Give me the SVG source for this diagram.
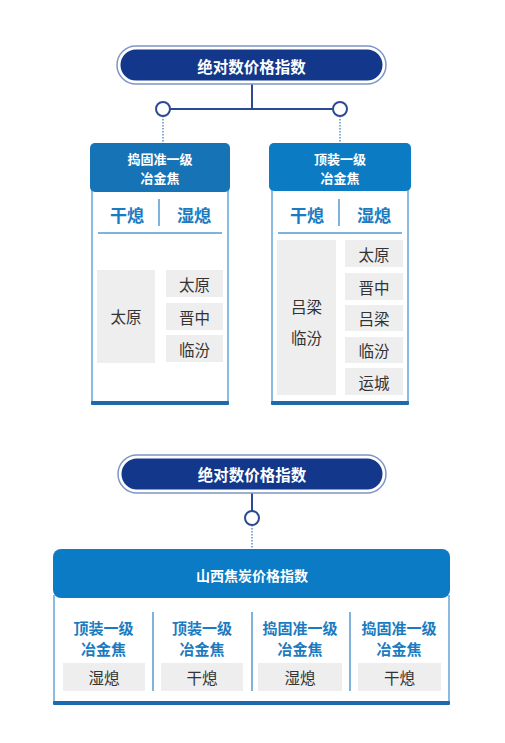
<svg xmlns="http://www.w3.org/2000/svg" width="505" height="743" viewBox="0 0 505 743">
<style>
text{font-family:"Noto Sans CJK SC","Noto Sans",sans-serif;text-anchor:middle;dominant-baseline:central}
.pillo{fill:#fff;stroke:#7f95c6;stroke-width:1.5}
.pilli{fill:#13378b}
.pt{fill:#fff;font-size:15.5px;font-weight:bold}
.hd{fill:#1674b6}
.ht{fill:#fff;font-size:13px;font-weight:bold}
.side{stroke:#8bbbe0;stroke-width:2;fill:none}
.bar{fill:#1c6aab}
.bt{fill:#1a7bc0;font-size:17px;font-weight:bold}
.bt2{fill:#1a7bc0;font-size:15px;font-weight:bold}
.sep{stroke:#7fb3dc;stroke-width:2}
.cell{fill:#eeeeee}
.ct{fill:#333;font-size:15.5px}
.ln{stroke:#2c4a93;stroke-width:2;fill:none}
.dot{stroke:#5a8fc9;stroke-width:1.5;stroke-dasharray:1.5 1.5;fill:none}
.circ{fill:#fff;stroke:#2c4a93;stroke-width:2}
</style>
<g id="connectors">
<path class="ln" d="M252 84V109M163 109H340"/>
<path class="dot" d="M163 116V143M340 116V143"/>
<circle class="circ" cx="163" cy="109" r="7"/>
<circle class="circ" cx="340" cy="109" r="7"/>
<path class="ln" d="M252 493V511"/>
<path class="dot" d="M252 525V549"/>
<circle class="circ" cx="252" cy="518" r="7"/>
</g>
<g id="pill1">
<rect class="pillo" x="117" y="46" width="269" height="38" rx="19"/>
<rect class="pilli" x="120.5" y="49.5" width="262" height="31" rx="15.5"/>
<text class="pt" x="251.5" y="65.5">绝对数价格指数</text>
</g>
<g id="box1">
<path class="side" d="M92 190V402M228 190V402"/>
<rect class="bar" x="91" y="401" width="138" height="4" rx="1"/>
<rect class="hd" x="90" y="143" width="140" height="49" rx="5"/>
<text class="ht" x="160" y="158">捣固准一级</text>
<text class="ht" x="160" y="177">冶金焦</text>
<text class="bt" x="127" y="214">干熄</text>
<text class="bt" x="194" y="214">湿熄</text>
<line class="sep" x1="159" y1="199" x2="159" y2="226"/>
<line class="sep" x1="98" y1="233" x2="222" y2="233"/>
<rect class="cell" x="97" y="270" width="58" height="93"/>
<text class="ct" x="126" y="316">太原</text>
<rect class="cell" x="166" y="270" width="57" height="27"/>
<text class="ct" x="194.5" y="283.5">太原</text>
<rect class="cell" x="166" y="303" width="57" height="27"/>
<text class="ct" x="194.5" y="316.5">晋中</text>
<rect class="cell" x="166" y="335" width="57" height="27"/>
<text class="ct" x="194.5" y="348.5">临汾</text>
</g>
<g id="box2">
<path class="side" d="M272 190V402M408 190V402"/>
<rect class="bar" x="271" y="401" width="138" height="4" rx="1"/>
<rect x="269" y="143" width="142" height="48" rx="5" fill="#0b7cc3"/>
<text class="ht" x="340" y="158">顶装一级</text>
<text class="ht" x="340" y="177">冶金焦</text>
<text class="bt" x="307" y="214">干熄</text>
<text class="bt" x="374" y="214">湿熄</text>
<line class="sep" x1="339" y1="199" x2="339" y2="226"/>
<line class="sep" x1="278" y1="233" x2="402" y2="233"/>
<rect class="cell" x="277" y="240" width="59" height="155"/>
<text class="ct" x="306.5" y="306">吕梁</text>
<text class="ct" x="306.5" y="337">临汾</text>
<rect class="cell" x="345" y="240" width="58" height="27"/>
<text class="ct" x="374" y="253.5">太原</text>
<rect class="cell" x="345" y="273" width="58" height="27"/>
<text class="ct" x="374" y="286.5">晋中</text>
<rect class="cell" x="345" y="305" width="58" height="26"/>
<text class="ct" x="374" y="318">吕梁</text>
<rect class="cell" x="345" y="337" width="58" height="26"/>
<text class="ct" x="374" y="350">临汾</text>
<rect class="cell" x="345" y="368" width="58" height="27"/>
<text class="ct" x="374" y="381.5">运城</text>
</g>
<g id="pill2">
<rect class="pillo" x="118" y="455" width="268" height="38" rx="19"/>
<rect class="pilli" x="121.5" y="458.5" width="261" height="31" rx="15.5"/>
<text class="pt" x="252" y="474">绝对数价格指数</text>
</g>
<g id="box3">
<path class="side" d="M54 595V702M449 595V702"/>
<rect class="bar" x="53" y="701" width="397" height="4" rx="1"/>
<rect x="53" y="549" width="397" height="49" rx="8" fill="#0a7bc4"/>
<text class="ht" x="252" y="574.5" style="font-size:14px">山西焦炭价格指数</text>
<line class="sep" x1="153" y1="612" x2="153" y2="691"/>
<line class="sep" x1="252" y1="612" x2="252" y2="691"/>
<line class="sep" x1="350" y1="612" x2="350" y2="691"/>
<text class="bt2" x="103.5" y="627">顶装一级</text>
<text class="bt2" x="103.5" y="648">冶金焦</text>
<rect class="cell" x="63" y="663" width="82" height="28"/>
<text class="ct" x="104" y="677">湿熄</text>
<text class="bt2" x="202" y="627">顶装一级</text>
<text class="bt2" x="202" y="648">冶金焦</text>
<rect class="cell" x="161" y="663" width="82" height="28"/>
<text class="ct" x="202" y="677">干熄</text>
<text class="bt2" x="300" y="627">捣固准一级</text>
<text class="bt2" x="300" y="648">冶金焦</text>
<rect class="cell" x="258" y="663" width="84" height="28"/>
<text class="ct" x="300" y="677">湿熄</text>
<text class="bt2" x="399" y="627">捣固准一级</text>
<text class="bt2" x="399" y="648">冶金焦</text>
<rect class="cell" x="358" y="663" width="83" height="28"/>
<text class="ct" x="399.5" y="677">干熄</text>
</g>
</svg>
